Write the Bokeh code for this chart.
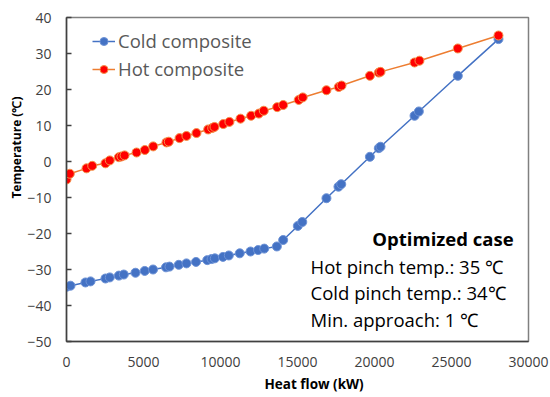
from bokeh.plotting import figure
from bokeh.models import Range1d, FixedTicker, Legend, LegendItem, Label, Title
from bokeh.embed import file_html
from bokeh.resources import INLINE

# Cold composite curve (heat flow kW, temperature C)
cold_q = [0, 260, 1230, 1560, 2530, 2810, 3400, 3720, 4480, 5080, 5620, 6460, 6690,
          7290, 7790, 8410, 9140, 9420, 9630, 10160, 10540, 11250, 11950, 12440, 12840,
          13660, 14070, 15020, 15310, 16880, 17660, 17840, 19700, 20280, 20390, 22600,
          22880, 25410, 28050]
cold_t = [-34.8, -34.5, -33.6, -33.3, -32.5, -32.2, -31.7, -31.4, -30.9, -30.4, -30.0,
          -29.4, -29.2, -28.7, -28.3, -27.9, -27.4, -27.1, -26.9, -26.5, -26.1, -25.5,
          -25.0, -24.6, -24.2, -23.6, -21.8, -17.9, -16.8, -10.2, -7.0, -6.3, 1.3, 3.7,
          4.1, 12.7, 13.9, 23.8, 34.0]

# Hot composite curve
hot_q = [0, 215, 1300, 1670, 2530, 2810, 3400, 3570, 3770, 4550, 5090, 5630, 6490, 6640,
         7340, 7790, 8440, 9200, 9460, 9610, 10180, 10580, 11300, 11990, 12490, 12810,
         13680, 14070, 15080, 15340, 16880, 17680, 17860, 19700, 20280, 20390, 22600,
         22920, 25410, 28050]
hot_t = [-5.0, -3.4, -1.9, -1.2, -0.5, 0.3, 1.2, 1.4, 1.7, 2.5, 3.2, 4.2, 5.3, 5.5,
         6.5, 7.1, 7.9, 8.9, 9.3, 9.6, 10.4, 11.0, 11.9, 12.7, 13.3, 14.1, 15.1, 15.7,
         17.1, 17.8, 19.8, 20.7, 21.1, 23.8, 24.7, 24.9, 27.5, 28.0, 31.4, 35.0]

x_ticks = [0, 5000, 10000, 15000, 20000, 25000, 30000]
y_ticks = [-50, -40, -30, -20, -10, 0, 10, 20, 30, 40]

series_names = ["Cold composite", "Hot composite"]
x_title = "Heat flow (kW)"
y_title = "Temperature (\u2103)"
note_title = "Optimized case"
note_lines = ["Hot pinch temp.: 35 \u2103", "Cold pinch temp.: 34\u2103", "Min. approach: 1 \u2103"]

FONT = "Open Sans"

p = figure(width=550, height=397, output_backend="svg", toolbar_location=None,
           x_range=Range1d(0, 30000), y_range=Range1d(-50, 40),
           min_border_left=66, min_border_right=22, min_border_top=17, min_border_bottom=56)
p.grid.visible = False
p.outline_line_color = "#808080"
p.outline_line_width = 1.5
p.background_fill_color = "white"
p.border_fill_color = "white"

# axes
for ax in (p.xaxis[0], p.yaxis[0]):
    ax.axis_line_color = "#404040"
    ax.axis_line_width = 1.5
    ax.major_label_text_font = FONT
    ax.major_label_text_font_size = "14px"
    ax.major_label_text_color = "#404040"
    ax.minor_tick_line_color = None

p.xaxis.ticker = FixedTicker(ticks=x_ticks)
p.yaxis.ticker = FixedTicker(ticks=y_ticks)
p.xaxis.major_tick_in = 0
p.xaxis.major_tick_out = 0
p.xaxis.major_label_standoff = 15

p.yaxis.major_tick_in = 5
p.yaxis.major_tick_out = 0
p.yaxis.major_tick_line_color = "#404040"
p.yaxis.major_tick_line_width = 1.5
p.yaxis.major_label_standoff = 15

# axis titles, offset like the original
p.add_layout(Title(text=x_title, align="left", offset=198, standoff=6,
                   text_font=FONT, text_font_size="13.5px", text_font_style="bold",
                   text_color="#000000"), "below")
p.add_layout(Title(text=y_title, align="right", offset=79, standoff=0,
                   text_font=FONT, text_font_size="12px", text_font_style="bold",
                   text_color="#000000"), "left")

# series
cl = p.line(cold_q, cold_t, line_color="#4472C4", line_width=1.5)
cs = p.scatter(cold_q, cold_t, size=9, fill_color="#4472C4", line_color="#6E93D6", line_width=1)
hl = p.line(hot_q, hot_t, line_color="#ED7D31", line_width=1.5)
hs = p.scatter(hot_q, hot_t, size=9, fill_color="#FF0000", line_color="#F5924A", line_width=1)

legend = Legend(items=[LegendItem(label=series_names[0], renderers=[cl, cs]),
                       LegendItem(label=series_names[1], renderers=[hl, hs])],
                location=(26, 260), padding=0, margin=0, spacing=3,
                glyph_width=23, glyph_height=20, label_height=20, label_standoff=3,
                border_line_color=None, background_fill_alpha=0,
                label_text_font=FONT, label_text_font_size="18.5px",
                label_text_color="#595959")
p.add_layout(legend)

# annotation text
p.add_layout(Label(x=29030, y=-21.5, text=note_title, text_align="right",
                   text_baseline="middle", text_font=FONT, text_font_size="18.5px",
                   text_font_style="bold", text_color="#000000"))
for txt, yy in zip(note_lines, [-29.3, -36.3, -43.8]):
    p.add_layout(Label(x=15850, y=yy, text=txt, text_align="left",
                       text_baseline="middle", text_font=FONT, text_font_size="18.5px",
                       text_color="#000000"))

open("out.html", "w").write(file_html(p, INLINE))
